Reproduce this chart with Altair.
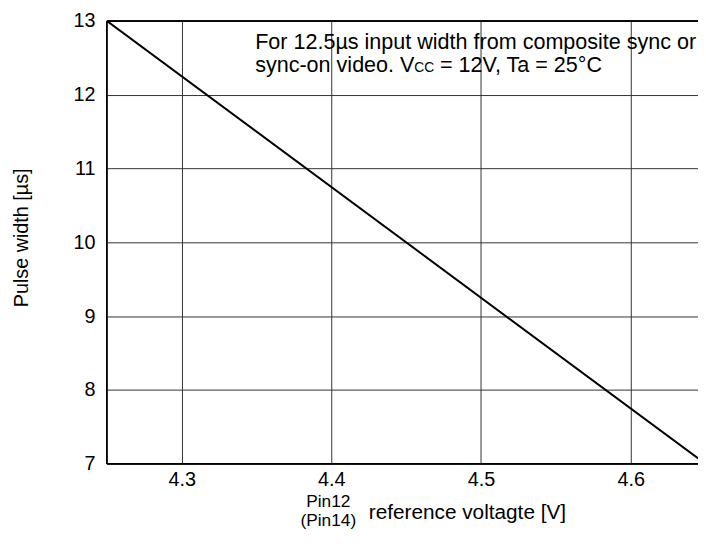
import altair as alt
import pandas as pd

voltage = [4.25, 4.65]
pulse_width = [13.0, 7.0]
x_ticks = [4.3, 4.4, 4.5, 4.6]
y_ticks = [7, 8, 9, 10, 11, 12, 13]

df = pd.DataFrame({"v": voltage, "w": pulse_width})

FONT = "Liberation Sans"
W, H = 598, 448
FS = 20

x = alt.X("v:Q", scale=alt.Scale(domain=[4.25, 4.645], nice=False, zero=False),
          axis=alt.Axis(values=x_ticks, format=".1f", title=None, labelFontSize=FS,
                        labelFont=FONT, labelColor="black", labelPadding=6,
                        ticks=False, domain=False, gridColor="#333", gridOpacity=1,
                        gridWidth=1))
y = alt.Y("w:Q", scale=alt.Scale(domain=[7, 13], nice=False, zero=False),
          axis=alt.Axis(values=y_ticks, format="d", title="Pulse width [µs]",
                        titleFontSize=FS, titleFont=FONT, titleFontWeight="normal",
                        titleColor="black", titlePadding=42, titleY=219,
                        labelFontSize=FS, labelFont=FONT, labelColor="black",
                        labelPadding=12, ticks=False, domain=False,
                        gridColor="#333", gridOpacity=1, gridWidth=1))

line = alt.Chart(df).mark_line(color="black", strokeWidth=2, clip=True).encode(x=x, y=y)

def txt(s, px, py, size=FS, align="left", baseline="alphabetic"):
    return alt.Chart(pd.DataFrame({"t": [s]})).mark_text(
        font=FONT, fontSize=size, color="black", align=align, baseline=baseline,
        clip=False).encode(text="t:N", x=alt.value(px), y=alt.value(py))

frame_left = alt.Chart(df).mark_rule(color="black", strokeWidth=1.5).encode(
    x=alt.value(0), y=alt.value(0), y2=alt.value(H))
frame_top = alt.Chart(df).mark_rule(color="black", strokeWidth=1.5).encode(
    x=alt.value(0), x2=alt.value(W), y=alt.value(0))
frame_bottom = alt.Chart(df).mark_rule(color="black", strokeWidth=1.5).encode(
    x=alt.value(0), x2=alt.value(W), y=alt.value(H))

# annotation (offsets relative to the plot area's top-left corner)
NS = 21.8
note1 = txt("For 12.5µs input width from composite sync or", 150, 28, size=NS)
note2a = txt("sync-on video. V", 150, 52, size=NS)
note2b = txt("CC", 311, 52, size=14)
note2c = txt("= 12V, Ta = 25°C", 337, 52, size=NS)

xt1 = txt("Pin12", 224, 492, size=17.5, align="center")
xt2 = txt("(Pin14)", 224, 511, size=17.5, align="center")
xt3 = txt("reference voltagte [V]", 265, 504, size=21)

chart = alt.layer(line, frame_left, frame_top, frame_bottom,
                  note1, note2a, note2b, note2c, xt1, xt2, xt3).properties(
    width=W, height=H,
    autosize=alt.AutoSizeParams(type="none"),
    padding={"left": 100, "top": 10, "right": 0, "bottom": 68},
    background="white",
).configure_view(stroke=None)

chart.save("out.html", embed_options={"renderer": "svg", "actions": False})
